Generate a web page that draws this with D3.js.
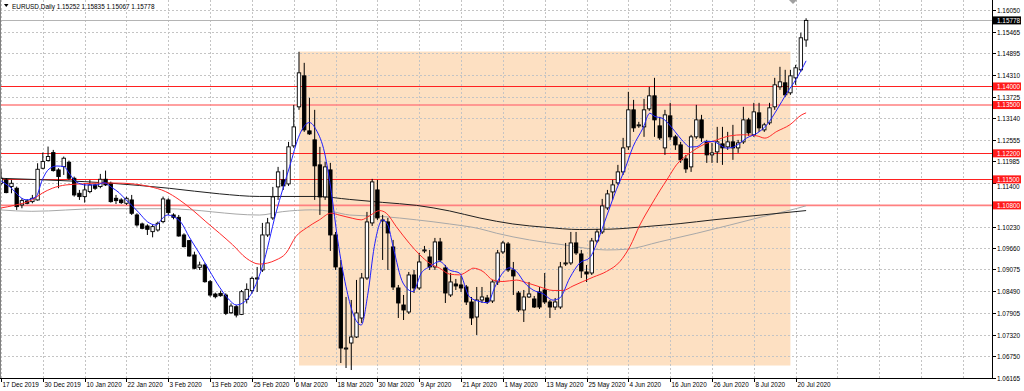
<!DOCTYPE html>
<html><head><meta charset="utf-8">
<script src="https://cdn.jsdelivr.net/npm/d3@7"></script>
<style>
html,body{margin:0;padding:0;background:#fff;}
svg{display:block;font-family:"Liberation Sans",Arial,sans-serif;}
</style></head><body>
<svg id="chart" width="1024" height="391"></svg>
<script>
const symbol = "EURUSD,Daily";
const dates = [
"2019-12-17","2019-12-18","2019-12-19","2019-12-20","2019-12-23","2019-12-24","2019-12-26","2019-12-27","2019-12-30","2019-12-31",
"2020-01-02","2020-01-03","2020-01-06","2020-01-07","2020-01-08","2020-01-09","2020-01-10","2020-01-13","2020-01-14","2020-01-15","2020-01-16","2020-01-17","2020-01-20","2020-01-21","2020-01-22","2020-01-23","2020-01-24","2020-01-27","2020-01-28","2020-01-29","2020-01-30","2020-01-31",
"2020-02-03","2020-02-04","2020-02-05","2020-02-06","2020-02-07","2020-02-10","2020-02-11","2020-02-12","2020-02-13","2020-02-14","2020-02-17","2020-02-18","2020-02-19","2020-02-20","2020-02-21","2020-02-24","2020-02-25","2020-02-26","2020-02-27","2020-02-28",
"2020-03-02","2020-03-03","2020-03-04","2020-03-05","2020-03-06","2020-03-09","2020-03-10","2020-03-11","2020-03-12","2020-03-13","2020-03-16","2020-03-17","2020-03-18","2020-03-19","2020-03-20","2020-03-23","2020-03-24","2020-03-25","2020-03-26","2020-03-27","2020-03-30","2020-03-31",
"2020-04-01","2020-04-02","2020-04-03","2020-04-06","2020-04-07","2020-04-08","2020-04-09","2020-04-10","2020-04-13","2020-04-14","2020-04-15","2020-04-16","2020-04-17","2020-04-20","2020-04-21","2020-04-22","2020-04-23","2020-04-24","2020-04-27","2020-04-28","2020-04-29","2020-04-30",
"2020-05-01","2020-05-04","2020-05-05","2020-05-06","2020-05-07","2020-05-08","2020-05-11","2020-05-12","2020-05-13","2020-05-14","2020-05-15","2020-05-18","2020-05-19","2020-05-20","2020-05-21","2020-05-22","2020-05-25","2020-05-26","2020-05-27","2020-05-28","2020-05-29",
"2020-06-01","2020-06-02","2020-06-03","2020-06-04","2020-06-05","2020-06-08","2020-06-09","2020-06-10","2020-06-11","2020-06-12","2020-06-15","2020-06-16","2020-06-17","2020-06-18","2020-06-19","2020-06-22","2020-06-23","2020-06-24","2020-06-25","2020-06-26","2020-06-29","2020-06-30",
"2020-07-01","2020-07-02","2020-07-03","2020-07-06","2020-07-07","2020-07-08","2020-07-09","2020-07-10","2020-07-13","2020-07-14","2020-07-15","2020-07-16","2020-07-17","2020-07-20","2020-07-21","2020-07-22"];

const open = [1.11395,1.11485,1.11306,1.11261,1.10812,1.10919,1.10901,1.10946,1.11799,1.12006,
1.12221,1.11754,1.11844,1.11961,1.11530,1.11126,1.11036,1.11171,1.11350,1.11306,
1.11503,1.11395,1.10991,1.10946,1.10856,1.10946,1.10542,1.10300,1.10246,1.10093,
1.10138,1.10363,1.10946,1.10542,1.10479,1.10003,1.09851,1.09465,1.09133,1.09195,
1.08746,1.08414,1.08432,1.08387,1.07911,1.08073,1.07866,1.08270,1.08504,1.08820,
1.09062,1.10004,1.10462,1.11297,1.11486,1.11378,1.12401,1.13452,1.14286,1.12805,
1.12563,1.11890,1.11028,1.11755,1.10004,1.09116,1.06934,1.07096,1.07258,1.07769,
1.08846,1.10328,1.11216,1.10381,1.10355,1.09681,1.08577,1.08119,1.07931,1.08927,
1.08577,1.09574,1.09412,1.09143,1.09816,1.09116,1.08389,1.08685,1.08658,1.08604,
1.08200,1.07796,1.08254,1.08308,1.08227,1.08739,1.09547,1.09762,1.09062,1.08442,
1.07985,1.08335,1.08281,1.08470,1.08523,1.08200,1.08065,1.08065,1.09224,1.09251,
1.09789,1.09493,1.09008,1.08981,1.09843,1.10085,1.10731,1.11162,1.11405,1.11701,
1.12375,1.13371,1.12940,1.12913,1.13398,1.13748,1.12940,1.12347,1.13209,1.12644,
1.12428,1.12051,1.11836,1.12644,1.13101,1.12509,1.12159,1.12240,1.12455,1.12375,
1.12509,1.12347,1.12509,1.13101,1.12697,1.13290,1.12832,1.13021,1.13452,1.13990,
1.14098,1.13829,1.14232,1.14448,1.15252];
const high = [1.11772,1.11530,1.11485,1.11306,1.10991,1.10964,1.11081,1.11934,1.12221,1.12383,
1.12293,1.11799,1.12114,1.12006,1.11575,1.11216,1.11395,1.11485,1.11395,1.11647,
1.11736,1.11440,1.11081,1.10991,1.11036,1.11081,1.10587,1.10336,1.10291,1.10273,
1.10363,1.11036,1.10991,1.10587,1.10542,1.10048,1.09869,1.09554,1.09285,1.09240,
1.08791,1.08450,1.08504,1.08432,1.08162,1.08118,1.08522,1.08701,1.08881,1.09143,
1.10328,1.10462,1.11297,1.11836,1.11755,1.12509,1.13505,1.14933,1.14636,1.13694,
1.13371,1.12375,1.11970,1.11944,1.10085,1.09331,1.08335,1.08254,1.08793,1.08981,
1.10624,1.11513,1.11486,1.10543,1.10462,1.09870,1.08658,1.08389,1.09008,1.09062,
1.09520,1.09708,1.09601,1.09924,1.09924,1.09197,1.08981,1.08820,1.08900,1.08658,
1.08335,1.08604,1.08604,1.08389,1.08793,1.09601,1.09843,1.09816,1.09277,1.08496,
1.08523,1.08739,1.08362,1.08604,1.08981,1.08254,1.08308,1.09277,1.09789,1.10085,
1.10085,1.09601,1.09197,1.09924,1.10166,1.10974,1.11216,1.11486,1.11890,1.12617,
1.13856,1.13640,1.13048,1.13667,1.13990,1.14232,1.13182,1.13371,1.13559,1.12697,
1.12509,1.12159,1.12697,1.13505,1.13236,1.12563,1.12482,1.12913,1.12913,1.12778,
1.12967,1.12563,1.13452,1.13155,1.13559,1.13559,1.13021,1.13559,1.14232,1.14529,
1.14448,1.14448,1.14582,1.15444,1.15835];
const low = [1.11350,1.11126,1.11126,1.10677,1.10722,1.10829,1.10856,1.10928,1.11772,1.11979,
1.11710,1.11261,1.11620,1.11485,1.11036,1.10946,1.10874,1.11126,1.11216,1.11261,
1.11323,1.10874,1.10838,1.10838,1.10812,1.10542,1.10228,1.10156,1.10003,1.09940,
1.10093,1.10318,1.10542,1.10425,1.09958,1.09671,1.09420,1.09079,1.09061,1.08719,
1.08342,1.08297,1.08342,1.07848,1.07875,1.07785,1.07848,1.08162,1.08432,1.08470,
1.09008,1.09951,1.10408,1.10947,1.11216,1.11324,1.12347,1.13371,1.12778,1.12697,
1.10947,1.10543,1.10947,1.09574,1.09062,1.06557,1.06423,1.06369,1.07231,1.07635,
1.08793,1.10247,1.10408,1.09331,1.09062,1.08523,1.07769,1.07715,1.07877,1.08442,
1.08523,1.09520,1.09062,1.09062,1.09277,1.08173,1.08335,1.08523,1.08470,1.08119,
1.07581,1.07312,1.08173,1.08146,1.08173,1.08658,1.09493,1.09008,1.08389,1.07931,
1.07662,1.08308,1.08038,1.08011,1.08146,1.07769,1.07985,1.08011,1.09170,1.09197,
1.09466,1.08847,1.08739,1.08927,1.09789,1.10031,1.10678,1.10947,1.11351,1.11620,
1.12293,1.12778,1.12886,1.12644,1.13344,1.12644,1.12563,1.12159,1.12563,1.12293,
1.11944,1.11674,1.11701,1.12590,1.12509,1.11944,1.11944,1.11944,1.11890,1.12293,
1.12025,1.12213,1.12455,1.12670,1.12644,1.12778,1.12778,1.12967,1.13371,1.13909,
1.13721,1.13775,1.14044,1.14394,1.15067];
const close = [1.11530,1.11144,1.11395,1.10767,1.10928,1.10856,1.10991,1.11772,1.11979,1.12114,
1.11736,1.11575,1.12069,1.11530,1.11081,1.11036,1.11216,1.11350,1.11261,1.11503,
1.11350,1.10901,1.10928,1.10874,1.10991,1.10587,1.10273,1.10183,1.10156,1.10228,
1.10318,1.10973,1.10605,1.10479,1.09976,1.09689,1.09438,1.09106,1.09195,1.08746,
1.08387,1.08342,1.08369,1.07893,1.08091,1.07848,1.08477,1.08540,1.08836,1.08847,
1.10004,1.10328,1.11028,1.11701,1.11324,1.12375,1.12913,1.14367,1.12832,1.12724,
1.11863,1.11028,1.11836,1.10004,1.09143,1.06961,1.06961,1.07258,1.07904,1.08846,
1.10355,1.11432,1.10462,1.10408,1.10058,1.08604,1.08173,1.07985,1.08927,1.08577,
1.09277,1.09601,1.09143,1.09816,1.09331,1.08442,1.08739,1.08631,1.08577,1.08200,
1.07769,1.08254,1.08335,1.08200,1.08739,1.09520,1.09789,1.09062,1.08900,1.07985,
1.08335,1.08416,1.08065,1.08065,1.08200,1.08065,1.08200,1.09143,1.09251,1.09789,
1.09520,1.09035,1.08954,1.09843,1.10085,1.10785,1.11109,1.11351,1.11701,1.12347,
1.13371,1.12886,1.12967,1.13371,1.13748,1.13101,1.12617,1.13236,1.12644,1.12428,
1.12025,1.11782,1.12644,1.13101,1.12617,1.12159,1.12213,1.12509,1.12347,1.12509,
1.12347,1.12482,1.13101,1.12751,1.13317,1.12886,1.12967,1.13425,1.14044,1.14125,
1.13775,1.14286,1.14502,1.15310,1.15778];

// moving averages: [bar index, price]
const maFast = [[0,1.1146],[1.5,1.1132],[4.8,1.1095],[6.7,1.1103],[7.9,1.1149],[9.2,1.1178],[10.7,1.1186],[12.1,1.1184],[13,1.1167],[14.4,1.1143],[16.3,1.1135],[18.2,1.1135],[19.7,1.1141],[21.3,1.1127],[22.6,1.1114],[23.9,1.1095],[25.1,1.1079],[26.4,1.1060],[28,1.1036],[29.7,1.1027],[30.8,1.1044],[31.8,1.1054],[33.1,1.1049],[34.5,1.1033],[36,1.0995],[37.9,1.0952],[39.8,1.0906],[41.8,1.0860],[43.7,1.0825],[45,1.0812],[46.2,1.0817],[47.5,1.0834],[50,1.0915],[52.6,1.1060],[55.2,1.1184],[57.1,1.1270],[59,1.1303],[60.3,1.1283],[61.9,1.1221],[63.2,1.1114],[64.4,1.0987],[66,1.0861],[67.3,1.0790],[68.9,1.0758],[70.2,1.0844],[71.4,1.0969],[73,1.1041],[74,1.1027],[75,1.0969],[76.9,1.0871],[78.8,1.0848],[80.4,1.0898],[82,1.0915],[83.9,1.0929],[85.8,1.0906],[87.7,1.0898],[89.6,1.0834],[91.6,1.0821],[93.1,1.0818],[94.4,1.0858],[95.7,1.0893],[97.3,1.0912],[98.6,1.0902],[100.2,1.0871],[101.8,1.0852],[103.7,1.0842],[105.6,1.0825],[106.9,1.0831],[108.8,1.0885],[110.7,1.0925],[112.6,1.0939],[114.2,1.0987],[115.8,1.1049],[117.7,1.1122],[119.3,1.1176],[120.9,1.1238],[122.8,1.1288],[124.1,1.1328],[125.1,1.1319],[126.4,1.1315],[127.6,1.1301],[128.9,1.1279],[130.5,1.1252],[131.8,1.1237],[133.1,1.1238],[134.7,1.1252],[136.2,1.1252],[137.5,1.1243],[138.8,1.1234],[140.1,1.1237],[141.3,1.1247],[142.6,1.1261],[144.6,1.1274],[146.5,1.1297],[148.4,1.1337],[150.3,1.1382],[152.2,1.1422],[154,1.1469]];
const maMid = [[-0.4,1.1072],[2.8,1.1081],[6,1.1095],[7.9,1.1113],[9.8,1.1126],[12.4,1.1135],[15.6,1.1138],[18.8,1.1140],[22,1.1140],[25.1,1.1138],[28.3,1.1131],[31.5,1.1117],[34.1,1.1095],[36.6,1.1068],[39.2,1.1036],[41.8,1.1005],[44.3,1.0974],[46.9,1.0938],[49.4,1.0922],[52.6,1.0933],[54.5,1.0951],[56.4,1.0996],[58.4,1.1019],[60.9,1.1041],[63.1,1.1059],[64.7,1.1054],[67.3,1.1045],[68.9,1.1041],[70.5,1.1052],[72.4,1.1066],[73.7,1.1059],[75.6,1.1023],[78.1,1.0978],[80.1,1.0947],[82,1.0924],[83.9,1.0911],[85.8,1.0895],[87.7,1.0893],[89.6,1.0906],[90.3,1.0911],[92.2,1.0902],[94.1,1.0879],[96,1.0875],[98.6,1.0879],[100.5,1.0872],[103,1.0861],[105.6,1.0851],[107.5,1.0851],[109.4,1.0863],[111.3,1.0875],[113.3,1.0887],[115.8,1.0902],[118.4,1.0929],[120.3,1.0969],[122.2,1.1027],[124.5,1.1084],[126,1.1119],[127.6,1.1154],[129.2,1.1189],[131.8,1.1221],[134.3,1.1243],[136.9,1.1256],[139.4,1.1267],[142,1.1270],[144.6,1.1267],[146.1,1.1261],[148.4,1.1279],[150.9,1.1297],[153.2,1.1324],[154,1.1329]];
const maLong = [[-0.4,1.1153],[11.1,1.1147],[20.7,1.1140],[32.2,1.1126],[41.8,1.1111],[49.4,1.1104],[60.3,1.1104],[66.7,1.1096],[73,1.1088],[79.5,1.1080],[85.8,1.1065],[91.6,1.1046],[97.9,1.1030],[104.2,1.1021],[110.7,1.1015],[116.5,1.1016],[123.4,1.1023],[129.9,1.1031],[136.2,1.1041],[142.5,1.1050],[149,1.1059],[154,1.1066]];
const maSlow = [[-0.4,1.1068],[5.9,1.1064],[18.8,1.1071],[31.6,1.1071],[49.4,1.1054],[53.8,1.1063],[59.6,1.1068],[63.4,1.1063],[66.7,1.1054],[73,1.1050],[79.5,1.1041],[85.8,1.1030],[91.6,1.1017],[94.8,1.1005],[101.1,1.0987],[107.5,1.0974],[115.8,1.0960],[119.7,1.0962],[126,1.0982],[133.1,1.1005],[139.4,1.1027],[145.8,1.1050],[152.3,1.1072],[154,1.1079]];

const priceTicks = [1.16050,1.15465,1.14895,1.14310,1.13725,1.13140,1.12555,1.11985,1.11400,1.10815,1.10230,1.09660,1.09075,1.08490,1.07905,1.07320,1.06750,1.06165];
const dateTickDates = ["2019-12-17","2019-12-30","2020-01-10","2020-01-22","2020-02-03","2020-02-13","2020-02-25","2020-03-06","2020-03-18","2020-03-30","2020-04-09","2020-04-21","2020-05-01","2020-05-13","2020-05-25","2020-06-04","2020-06-16","2020-06-26","2020-07-08","2020-07-20"];
const levels = [1.14000, 1.13500, 1.12200, 1.11500, 1.10800];
const zoneFrom = "2020-03-09", zoneTo = "2020-07-17", zoneHigh = 1.14940, zoneLow = 1.06490;

const svg = d3.select("#chart");
const W = 1024, H = 391, plotR = 992, plotB = 378;
const N = dates.length;
const x = d3.scaleLinear().domain([0, N - 1]).range([1, 806.1]);
const y = d3.scaleLinear().domain([1.06165, 1.16050]).range([377.6, 10.3]);
const fmt5 = d3.format(".5f");
const parse = d3.timeParse("%Y-%m-%d");
const fmtDate = d3.timeFormat("%-d %b %Y");
const crisp = v => Math.round(v) + 0.5;

svg.append("rect").attr("width", W).attr("height", H).attr("fill", "#fff");
svg.append("defs").append("clipPath").attr("id", "clip")
  .append("rect").attr("x", 0).attr("y", 0).attr("width", plotR).attr("height", plotB);
const g = svg.append("g").attr("clip-path", "url(#clip)");

// zone rectangle
const zi0 = dates.indexOf(zoneFrom), zi1 = dates.indexOf(zoneTo);
g.append("rect").attr("x", x(zi0)).attr("width", x(zi1) - x(zi0))
  .attr("y", y(zoneHigh)).attr("height", y(zoneLow) - y(zoneHigh)).attr("fill", "#fde0c2");

// grid
const grid = g.append("g").attr("stroke", "#c4c4c4").attr("stroke-dasharray", "2,2").attr("shape-rendering", "crispEdges");
priceTicks.forEach(p => grid.append("line").attr("x1", 0).attr("x2", plotR).attr("y1", crisp(y(p))).attr("y2", crisp(y(p))));
const tickIdx = dateTickDates.map(d => dates.indexOf(d));
const gridIdx = d3.range(0, 190, 8);
gridIdx.forEach(i => grid.append("line").attr("x1", crisp(x(i))).attr("x2", crisp(x(i))).attr("y1", 0).attr("y2", plotB));

// levels
levels.forEach((p, k) => {
  const soft = (k === 1 || k === 4);
  g.append("line").attr("x1", 0).attr("x2", plotR)
    .attr("y1", soft ? y(p) : crisp(y(p))).attr("y2", soft ? y(p) : crisp(y(p)))
    .attr("stroke", soft ? "#ff8080" : "#ff2020").attr("stroke-width", soft ? 1.6 : 1)
    .attr("shape-rendering", soft ? "auto" : "crispEdges");
});
// bid line
const last = close[N - 1];
g.append("line").attr("x1", 0).attr("x2", plotR).attr("y1", crisp(y(last))).attr("y2", crisp(y(last)))
  .attr("stroke", "#b4b4b4").attr("shape-rendering", "crispEdges");

// long MAs under candles
const line = d3.line().x(d => x(d[0])).y(d => y(d[1])).curve(d3.curveMonotoneX);
g.append("path").attr("d", line(maSlow)).attr("fill", "none").attr("stroke", "#a8a8a8").attr("stroke-width", 1);
g.append("path").attr("d", line(maLong)).attr("fill", "none").attr("stroke", "#202020").attr("stroke-width", 1);

// candles
const bw = 3.4;
const cg = g.append("g");
d3.range(N).forEach(i => {
  const cx = x(i);
  cg.append("line").attr("x1", cx).attr("x2", cx).attr("y1", y(high[i])).attr("y2", y(low[i]))
    .attr("stroke", "#000").attr("stroke-width", 1);
  const up = close[i] >= open[i];
  const top = y(Math.max(open[i], close[i])), bot = y(Math.min(open[i], close[i]));
  cg.append("rect").attr("x", cx - bw / 2).attr("width", bw)
    .attr("y", top).attr("height", Math.max(0.8, bot - top))
    .attr("fill", up ? "#fff" : "#000").attr("stroke", "#000").attr("stroke-width", 0.9);
});

g.append("path").attr("d", line(maMid)).attr("fill", "none").attr("stroke", "#ff2a2a").attr("stroke-width", 1);
g.append("path").attr("d", line(maFast)).attr("fill", "none").attr("stroke", "#2020ff").attr("stroke-width", 1);

// frame
svg.append("line").attr("x1", 0.5).attr("x2", 0.5).attr("y1", 0).attr("y2", plotB).attr("stroke", "#808080");
svg.append("line").attr("x1", 0).attr("x2", plotR + 0.5).attr("y1", plotB + 0.5).attr("y2", plotB + 0.5).attr("stroke", "#000").attr("shape-rendering", "crispEdges");
svg.append("line").attr("x1", plotR + 0.5).attr("x2", plotR + 0.5).attr("y1", 0).attr("y2", plotB + 0.5).attr("stroke", "#000").attr("shape-rendering", "crispEdges");

// shift marker
svg.append("path").attr("d", `M${x(151.5)-4},0 L${x(151.5)+4},0 L${x(151.5)},4 Z`).attr("fill", "#a0a0a0");

// price axis
const fs = 6.4;
const pa = svg.append("g");
const tagPrices = levels.concat([last]);
const boxHalf = 4;
priceTicks.forEach(p => {
  const yy = crisp(y(p));
  pa.append("line").attr("x1", plotR).attr("x2", plotR + 4).attr("y1", yy).attr("y2", yy).attr("stroke", "#000").attr("shape-rendering", "crispEdges");
  // a tick label fully covered by a price tag is not shown; a partly covered one is nudged clear of the tag
  let ty = yy;
  let hidden = false;
  tagPrices.forEach(tp => {
    const d = yy - y(tp);
    if (Math.abs(d) < 2) hidden = true;
    else if (Math.abs(d) < boxHalf + 3.5) ty = y(tp) + Math.sign(d) * (boxHalf + 3.6);
  });
  if (!hidden) pa.append("text").attr("x", 997).attr("y", ty).attr("dy", "0.35em").attr("font-size", fs).attr("fill", "#000").text(fmt5(p));
});
function tag(p, fill) {
  const yy = y(p);
  pa.append("rect").attr("x", plotR + 1).attr("y", yy - boxHalf).attr("width", 28).attr("height", boxHalf * 2).attr("fill", fill);
  pa.append("text").attr("x", 997).attr("y", yy).attr("dy", "0.35em").attr("font-size", fs).attr("fill", "#fff").text(fmt5(p));
}
levels.forEach(p => tag(p, "#ff1a1a"));
tag(last, "#000");

// date axis
const da = svg.append("g");
tickIdx.forEach(i => {
  const xx = crisp(x(i));
  da.append("line").attr("x1", xx).attr("x2", xx).attr("y1", plotB).attr("y2", plotB + 4).attr("stroke", "#000").attr("shape-rendering", "crispEdges");
  da.append("text").attr("x", xx + 1).attr("y", 387).attr("font-size", fs).attr("fill", "#000").text(fmtDate(parse(dates[i])));
});

// title
svg.append("path").attr("d", "M4,4 L8.5,4 L6.25,7 Z").attr("fill", "#000");
svg.append("text").attr("x", 12).attr("y", 8.6).attr("font-size", fs).attr("fill", "#000")
  .text(`${symbol}  ${fmt5(open[N-1])} ${fmt5(high[N-1])} ${fmt5(low[N-1])} ${fmt5(close[N-1])}`);
</script>
</body></html>
